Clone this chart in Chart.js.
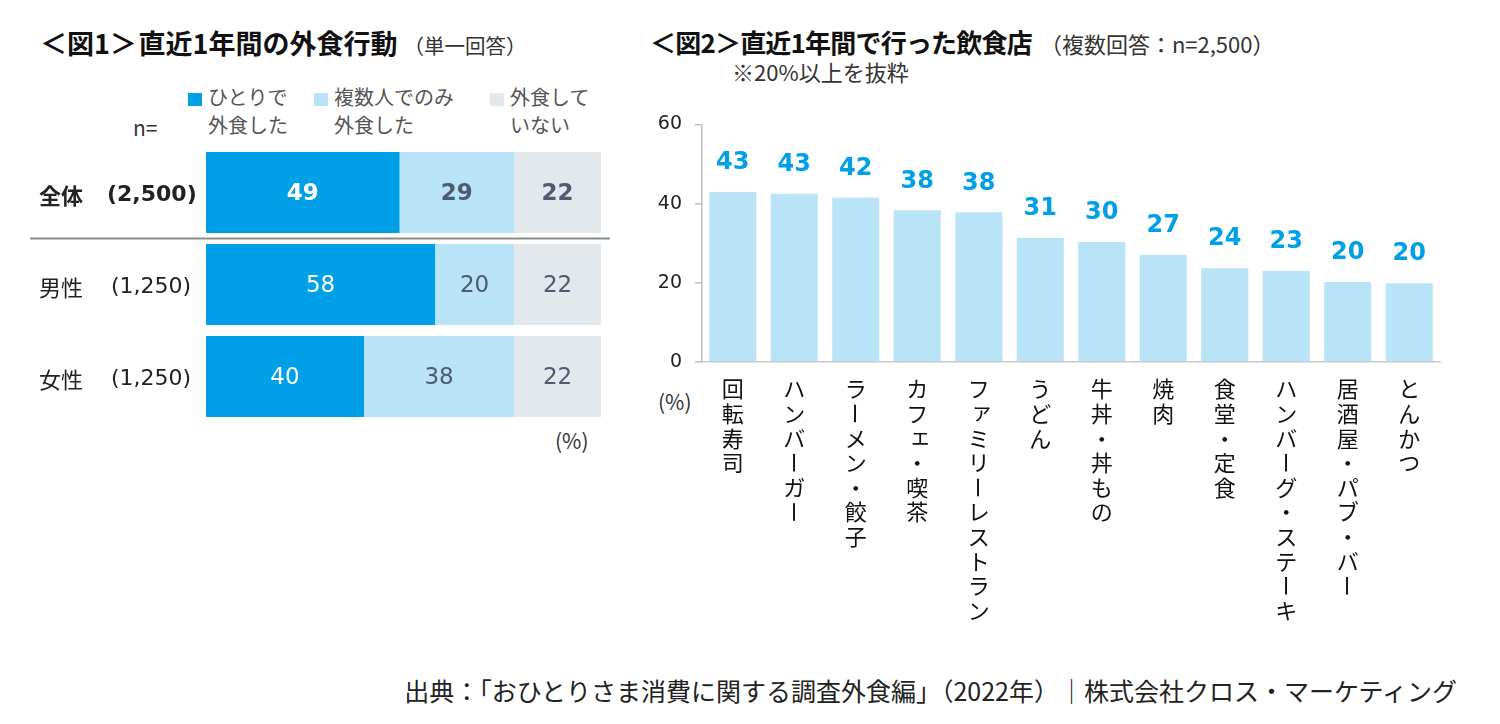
<!DOCTYPE html>
<html lang="ja">
<head>
<meta charset="utf-8">
<script src="https://cdn.jsdelivr.net/npm/chart.js@4.4.1/dist/chart.umd.min.js"></script>
<style>
  body { margin:0; width:1500px; height:724px; background:#fff; position:relative; overflow:hidden;
         font-family:"Noto Sans CJK JP", sans-serif; color:#222; }
  .abs { position:absolute; white-space:nowrap; line-height:1; }
  .title { font-weight:bold; color:#111; }
  .title span { font-weight:normal; color:#333; }
  .legend { font-size:20px; line-height:28px; color:#555; white-space:pre; }
  .sq { position:absolute; width:14px; height:13px; }
  canvas { position:absolute; }
</style>
</head>
<body>
<div class="abs title" style="left:40px;top:29px;font-size:27px">＜図1＞&#8202;直近1年間の外食行動<span style="font-size:20.5px;margin-left:6px">（単一回答）</span></div>
<div class="abs title" style="left:650px;top:29px;font-size:26px;letter-spacing:-0.8px">＜図2＞直近1年間で行った飲食店<span style="font-size:22px;letter-spacing:0;margin-left:8px">（複数回答：n=2,500）</span></div>
<div class="abs" style="left:732px;top:60px;font-size:22px;color:#333">※20%以上を抜粋</div>
<div class="abs" style="left:133px;top:117px;font-size:21px;color:#333">n=</div>
<div id="legend"></div>
<div class="abs" style="left:555px;top:430px;font-size:21px;color:#333">(%)</div>
<div class="abs" style="left:658px;top:391px;font-size:21px;color:#333">(%)</div>
<div class="abs" style="right:43px;top:678px;font-size:25px;color:#222">出典：「おひとりさま消費に関する調査外食編」（2022年）｜株式会社クロス・マーケティング</div>

<canvas id="behaviorChart" width="640" height="290" style="left:0;top:140px"></canvas>
<canvas id="shopChart" width="860" height="540" style="left:640px;top:100px"></canvas>

<script>
// 図1: 外食行動 (%)
const groups = ['全体', '男性', '女性'];
const groupN = ['(2,500)', '(1,250)', '(1,250)'];
const aloneShare = [49, 58, 40];
const withOthersShare = [29, 20, 38];
const noEatOutShare = [22, 22, 22];
const behaviorNames = ['ひとりで\n外食した', '複数人でのみ\n外食した', '外食して\nいない'];

// 図2: 飲食店 (%)
const shops = ['回転寿司', 'ハンバーガー', 'ラーメン・餃子', 'カフェ・喫茶', 'ファミリーレストラン', 'うどん',
               '牛丼・丼もの', '焼肉', '食堂・定食', 'ハンバーグ・ステーキ', '居酒屋・パブ・バー', 'とんかつ'];
const shopShare = [42.9, 42.5, 41.5, 38.3, 37.8, 31.3, 30.3, 27.0, 23.7, 23.0, 20.2, 19.9];
const yTicks = [0, 20, 40, 60];

const colors = ['#00a0e9', '#b9e3f7', '#e3e8ed'];
const numFont = '"DejaVu Sans", Verdana, sans-serif';
const jpFont = '"Noto Sans CJK JP", sans-serif';

// legend (html)
const legendBox = document.getElementById('legend');
const legendX = [188, 314, 490];
behaviorNames.forEach((name, i) => {
  const sq = document.createElement('div');
  sq.className = 'sq';
  sq.style.cssText = `left:${legendX[i]}px;top:93px;background:${colors[i]}`;
  legendBox.appendChild(sq);
  const t = document.createElement('div');
  t.className = 'abs legend';
  t.style.cssText = `left:${legendX[i] + 20}px;top:83px`;
  t.textContent = name;
  legendBox.appendChild(t);
});

// segment values + row labels on the left chart
const behaviorLabels = {
  id: 'behaviorLabels',
  afterDatasetsDraw(chart) {
    const ctx = chart.ctx;
    const yScale = chart.scales.y;
    ctx.save();
    ctx.textBaseline = 'middle';
    chart.data.datasets.forEach((ds, di) => {
      chart.getDatasetMeta(di).data.forEach((bar, i) => {
        ctx.textAlign = 'center';
        ctx.font = (i === 0 ? 'bold ' : '') + '23px ' + numFont;
        ctx.fillStyle = di === 0 ? '#ffffff' : '#4f5b6e';
        ctx.fillText(ds.data[i], (bar.x + bar.base) / 2, bar.y + 2);
      });
    });
    groups.forEach((g, i) => {
      const y = yScale.getPixelForValue(i) + 3;
      ctx.textAlign = 'left';
      ctx.fillStyle = '#222';
      ctx.font = (i === 0 ? 'bold ' : '') + '22px ' + jpFont;
      ctx.fillText(g, 39, y);
      ctx.font = (i === 0 ? 'bold ' : '') + '22px ' + numFont;
      ctx.fillText(groupN[i], i === 0 ? 107 : 111, y);
    });
    // separator under 全体
    const sepY = (yScale.getPixelForValue(0) + yScale.getPixelForValue(1)) / 2;
    ctx.strokeStyle = '#8c8c8c';
    ctx.lineWidth = 2;
    ctx.beginPath();
    ctx.moveTo(30, sepY);
    ctx.lineTo(610, sepY);
    ctx.stroke();
    ctx.restore();
  }
};

new Chart(document.getElementById('behaviorChart'), {
  type: 'bar',
  data: {
    labels: groups,
    datasets: [
      { label: behaviorNames[0], data: aloneShare, backgroundColor: colors[0] },
      { label: behaviorNames[1], data: withOthersShare, backgroundColor: colors[1] },
      { label: behaviorNames[2], data: noEatOutShare, backgroundColor: colors[2] }
    ]
  },
  options: {
    indexAxis: 'y',
    responsive: false,
    animation: false,
    layout: { padding: { left: 206, right: 39, top: 6.5, bottom: 7.5 } },
    datasets: { bar: { barPercentage: 0.88, categoryPercentage: 1 } },
    plugins: { legend: { display: false }, tooltip: { enabled: false } },
    scales: {
      x: { display: false, stacked: true, min: 0, max: 100 },
      y: { display: false, stacked: true }
    }
  },
  plugins: [behaviorLabels]
});

// draw text top-to-bottom, one glyph per step
function drawVertical(ctx, text, x, y0, pitch) {
  [...text].forEach((ch, k) => {
    ctx.save();
    ctx.translate(x, y0 + k * pitch);
    if (ch === 'ー') ctx.rotate(Math.PI / 2);
    else if ('ァィゥェォッャュョ'.includes(ch)) ctx.translate(pitch * 0.12, -pitch * 0.12);
    ctx.fillText(ch, 0, 0);
    ctx.restore();
  });
}

const shopLabels = {
  id: 'shopLabels',
  afterDatasetsDraw(chart) {
    const ctx = chart.ctx;
    const xScale = chart.scales.x;
    ctx.save();
    ctx.textAlign = 'center';
    ctx.textBaseline = 'middle';
    ctx.font = 'bold 24px ' + numFont;
    ctx.fillStyle = '#00a0e9';
    chart.getDatasetMeta(0).data.forEach((bar, i) => {
      ctx.fillText(Math.round(shopShare[i]), bar.x, bar.y - 29);
    });
    ctx.font = '22px ' + jpFont;
    ctx.fillStyle = '#111';
    shops.forEach((s, i) => {
      drawVertical(ctx, s, xScale.getPixelForValue(i), chart.chartArea.bottom + 27, 24.6);
    });
    ctx.restore();
  }
};

new Chart(document.getElementById('shopChart'), {
  type: 'bar',
  data: {
    labels: shops,
    datasets: [{ data: shopShare, backgroundColor: colors[1], barPercentage: 0.765, categoryPercentage: 1 }]
  },
  options: {
    responsive: false,
    animation: false,
    layout: { padding: { left: 0, right: 60, top: 22, bottom: 0 } },
    plugins: { legend: { display: false }, tooltip: { enabled: false } },
    scales: {
      x: {
        grid: { display: false },
        border: { color: '#c8c8c8', width: 1.5 },
        ticks: { display: false },
        afterFit: s => { s.height = 278; }
      },
      y: {
        min: 0, max: 60,
        afterBuildTicks: s => { s.ticks = yTicks.map(v => ({ value: v })); },
        grid: { drawOnChartArea: false, drawTicks: true, tickLength: 7, color: '#bfbfbf', lineWidth: 1.5 },
        border: { color: '#bfbfbf', width: 1.5 },
        ticks: { padding: 13, color: '#222', font: { family: numFont, size: 19 } },
        afterFit: s => { s.width = 62; }
      }
    }
  },
  plugins: [shopLabels]
});
</script>
</body>
</html>
